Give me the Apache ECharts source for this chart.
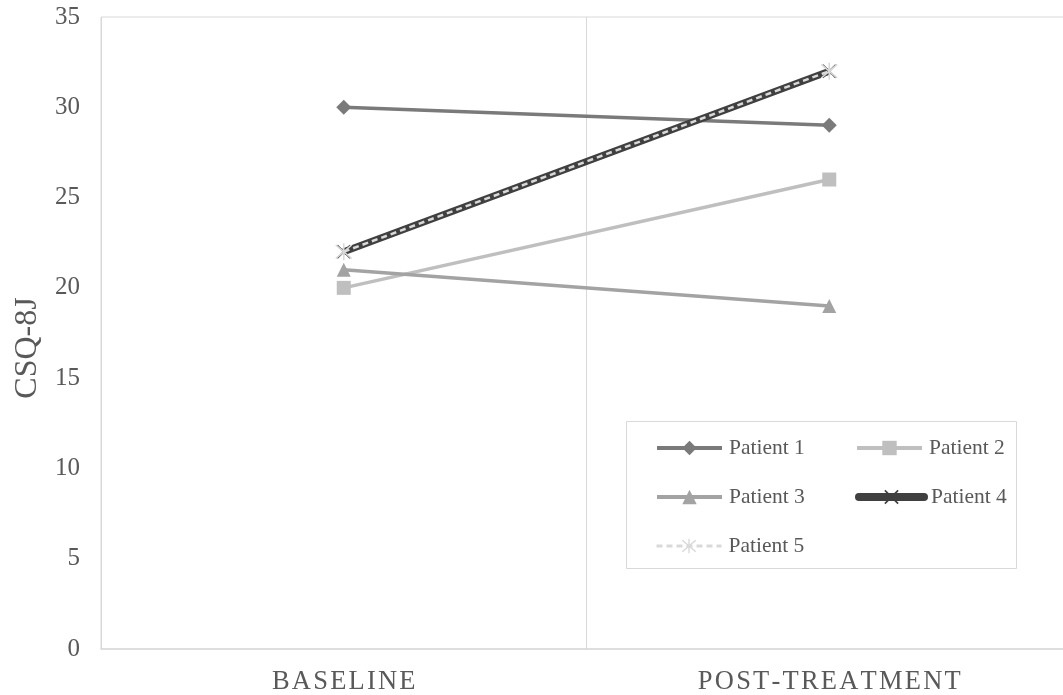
<!DOCTYPE html>
<html><head><meta charset="utf-8">
<script src="https://cdn.jsdelivr.net/npm/echarts@6/dist/echarts.min.js"></script>
<style>html,body{margin:0;padding:0;background:#fff}#c{width:1063px;height:695px}</style>
</head><body><div id="c"></div>
<script>
var categories = ['BASELINE', 'POST-TREATMENT'];
var seriesNames = ['Patient 1', 'Patient 2', 'Patient 3', 'Patient 4', 'Patient 5'];
var patient1 = [30, 29];
var patient2 = [20, 26];
var patient3 = [21, 19];
var patient4 = [22, 32];
var patient5 = [22, 32];
var yTicks = [0, 5, 10, 15, 20, 25, 30, 35];

var values = [patient1, patient2, patient3, patient4, patient5];
var colors = ['#7a7a7a', '#bfbfbf', '#a3a3a3', '#404040', '#d9d9d9'];
var widths = [3.5, 3.5, 3.5, 7, 2.5];
var legendWidths = [4, 4, 4, 8, 3];
var xPath = 'path://M1.4 2.8 L2.8 1.4 L18.6 17.2 L17.2 18.6 Z M17.2 1.4 L18.6 2.8 L2.8 18.6 L1.4 17.2 Z';
var starPath = 'path://M9.2 0 L10.8 0 L10.8 20 L9.2 20 Z M1.4 2.6 L2.6 1.4 L18.6 17.4 L17.4 18.6 Z M17.4 1.4 L18.6 2.6 L2.6 18.6 L1.4 17.4 Z';
var symbols = ['diamond', 'rect', 'triangle', xPath, starPath];
var sizes = [15, 14, 14, 14, 17];
var serif = '"Liberation Serif", "DejaVu Serif", serif';

var series = seriesNames.map(function (n, i) {
  return {
    name: n, type: 'line', data: values[i],
    symbol: symbols[i], symbolSize: sizes[i],
    itemStyle: { color: colors[i] },
    lineStyle: { color: colors[i], width: widths[i], type: i === 4 ? [6, 4] : 'solid' },
    z: 2 + i
  };
});

var legendPos = [[655, 437], [855, 437], [655, 486], [855, 486], [655, 535]];
var legends = seriesNames.map(function (n, i) {
  return {
    data: [n], left: legendPos[i][0], top: legendPos[i][1], z: 20,
    itemWidth: 65, itemHeight: 18, itemGap: 0, padding: 0,
    lineStyle: { width: legendWidths[i], cap: i === 3 ? 'round' : 'butt' },
    textStyle: { fontFamily: serif, fontSize: 21.5, color: '#595959', padding: [0, 0, 0, 2] },
    selectedMode: false
  };
});

var chart = echarts.init(document.getElementById('c'), null, { renderer: 'canvas' });
chart.setOption({
  animation: false,
  backgroundColor: '#fff',
  grid: { left: 101, top: 17, bottom: 46, right: -9, outerBoundsMode: 'none', show: true, borderColor: '#d9d9d9', borderWidth: 1 },
  xAxis: {
    type: 'category', data: categories, boundaryGap: true,
    axisLine: { show: true, lineStyle: { color: '#d9d9d9', width: 1.5 } },
    axisTick: { show: false },
    splitLine: { show: true, lineStyle: { color: '#d9d9d9', width: 1 } },
    axisLabel: {
      margin: 20, fontFamily: serif, fontSize: 26.5, color: '#595959',
      formatter: function (v) { return v.split('').join('\u200A'); }
    }
  },
  yAxis: {
    type: 'value', min: yTicks[0], max: yTicks[yTicks.length - 1], interval: 5,
    name: 'CSQ-8J', nameLocation: 'middle', nameGap: 57,
    nameTextStyle: { fontFamily: serif, fontSize: 32, color: '#595959', padding: [0, 30, 0, 0] },
    axisLine: { show: false }, axisTick: { show: false }, splitLine: { show: false },
    axisLabel: { margin: 21, fontFamily: serif, fontSize: 25, color: '#595959' }
  },
  graphic: [{
    type: 'rect', left: 626, top: 421, z: 10,
    shape: { width: 390, height: 147 },
    style: { fill: '#fff', stroke: '#d9d9d9', lineWidth: 1 }
  }],
  legend: legends,
  series: series
});
</script></body></html>
